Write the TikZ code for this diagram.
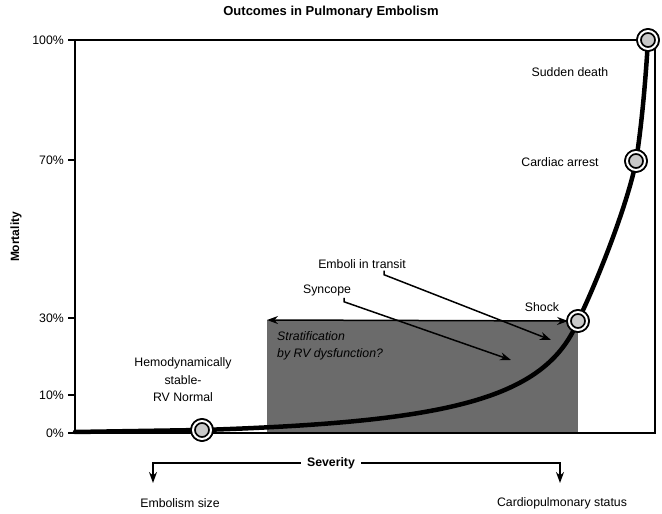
\documentclass[tikz,border=0pt]{standalone}
\usepackage{fontspec}
\setmainfont{Liberation Sans}
\usetikzlibrary{arrows.meta}
\definecolor{boxgray}{HTML}{6B6B6B}
\definecolor{dotgray}{HTML}{C8C8C8}
\tikzset{
  stage/.style={circle,draw=black,fill=dotgray,minimum size=18pt,inner sep=0pt,line width=1.8pt,double=white,double distance=2pt},
  pointer/.style={line width=1.5pt,-{Stealth[length=11pt,width=8pt]}},
  label/.style={font=\fontsize{12.3}{17.5}\selectfont,align=center,inner sep=0pt}
}
\begin{document}
\begin{tikzpicture}[x=1pt,y=1pt]
  \useasboundingbox (0,0) rectangle (662,514);

  \fill[boxgray] (267,81) rectangle (578,194);
  \draw[line width=1.8pt] (75,474) -- (75,81) -- (655,81) -- (655,474) -- cycle;

  \foreach \pct/\y in {100/474, 70/354, 30/196, 10/119, 0/81} {
    \draw[line width=1.5pt] (68,\y) -- (75,\y);
    \node[label,anchor=east] at (64,\y) {\pct\%};
  }

  \node[label,font=\fontsize{13}{15}\selectfont\bfseries] (title) at (331,502) {Outcomes in Pulmonary Embolism};
  \node[label,font=\fontsize{12}{14}\selectfont\bfseries,rotate=90] (mortality) at (16,277) {Mortality};

  \coordinate (start) at (75,82);
  \node[stage] (stable) at (202,84) {};
  \node[stage] (shock) at (578,193) {};
  \node[stage] (arrest) at (636,353) {};
  \node[stage] (death) at (648,474) {};

  \draw[line width=4.5pt,line cap=round] (start) -- (stable.center)
    .. controls (450,92) and (545,115) .. (shock.center)
    .. controls (605,250) and (630,320) .. (arrest.center)
    .. controls (642,390) and (646,440) .. (death.center);
  \node[stage] at (stable) {};
  \node[stage] at (shock) {};
  \node[stage] at (arrest) {};
  \node[stage] at (death) {};

  \node[label] (suddentxt) at (570,442) {Sudden death};
  \node[label] (arresttxt) at (560,352) {Cardiac arrest};
  \node[label] (shocktxt) at (542,207) {Shock};
  \node[label] (emboli) at (362,250) {Emboli in transit};
  \node[label] (syncope) at (327,224) {Syncope};
  \node[label] (hemo) at (183,134) {Hemodynamically\\stable-\\RV Normal};
  \node[label,align=left,anchor=north west,font=\fontsize{12.3}{17}\selectfont\itshape] (strat) at (277,183) {Stratification\\by RV dysfunction?};

  \coordinate (boxcorner) at (267,194);
  \coordinate (embolitip) at (551,174);
  \coordinate (syncopetip) at (511,154);
  \draw[pointer,{Stealth[length=11pt,width=8pt]}-{Stealth[length=11pt,width=8pt]}] (boxcorner) -- (shock.west);
  \draw[pointer] ([xshift=22pt,yshift=-2pt]emboli.south) -- ++(0,-4) -- (embolitip);
  \draw[pointer] ([xshift=17pt,yshift=-2pt]syncope.south) -- ++(0,-4) -- (syncopetip);

  \node[label,font=\fontsize{12.3}{14}\selectfont\bfseries,inner sep=6pt] (severity) at (331,51) {Severity};
  \coordinate (sizetip) at (153,31);
  \coordinate (statustip) at (560,31);
  \draw[pointer] (severity.west) -| (sizetip);
  \draw[pointer] (severity.east) -| (statustip);
  \node[label] (sizetxt) at (180,11) {Embolism size};
  \node[label] (statustxt) at (562,11) {Cardiopulmonary status};
\end{tikzpicture}
\end{document}
